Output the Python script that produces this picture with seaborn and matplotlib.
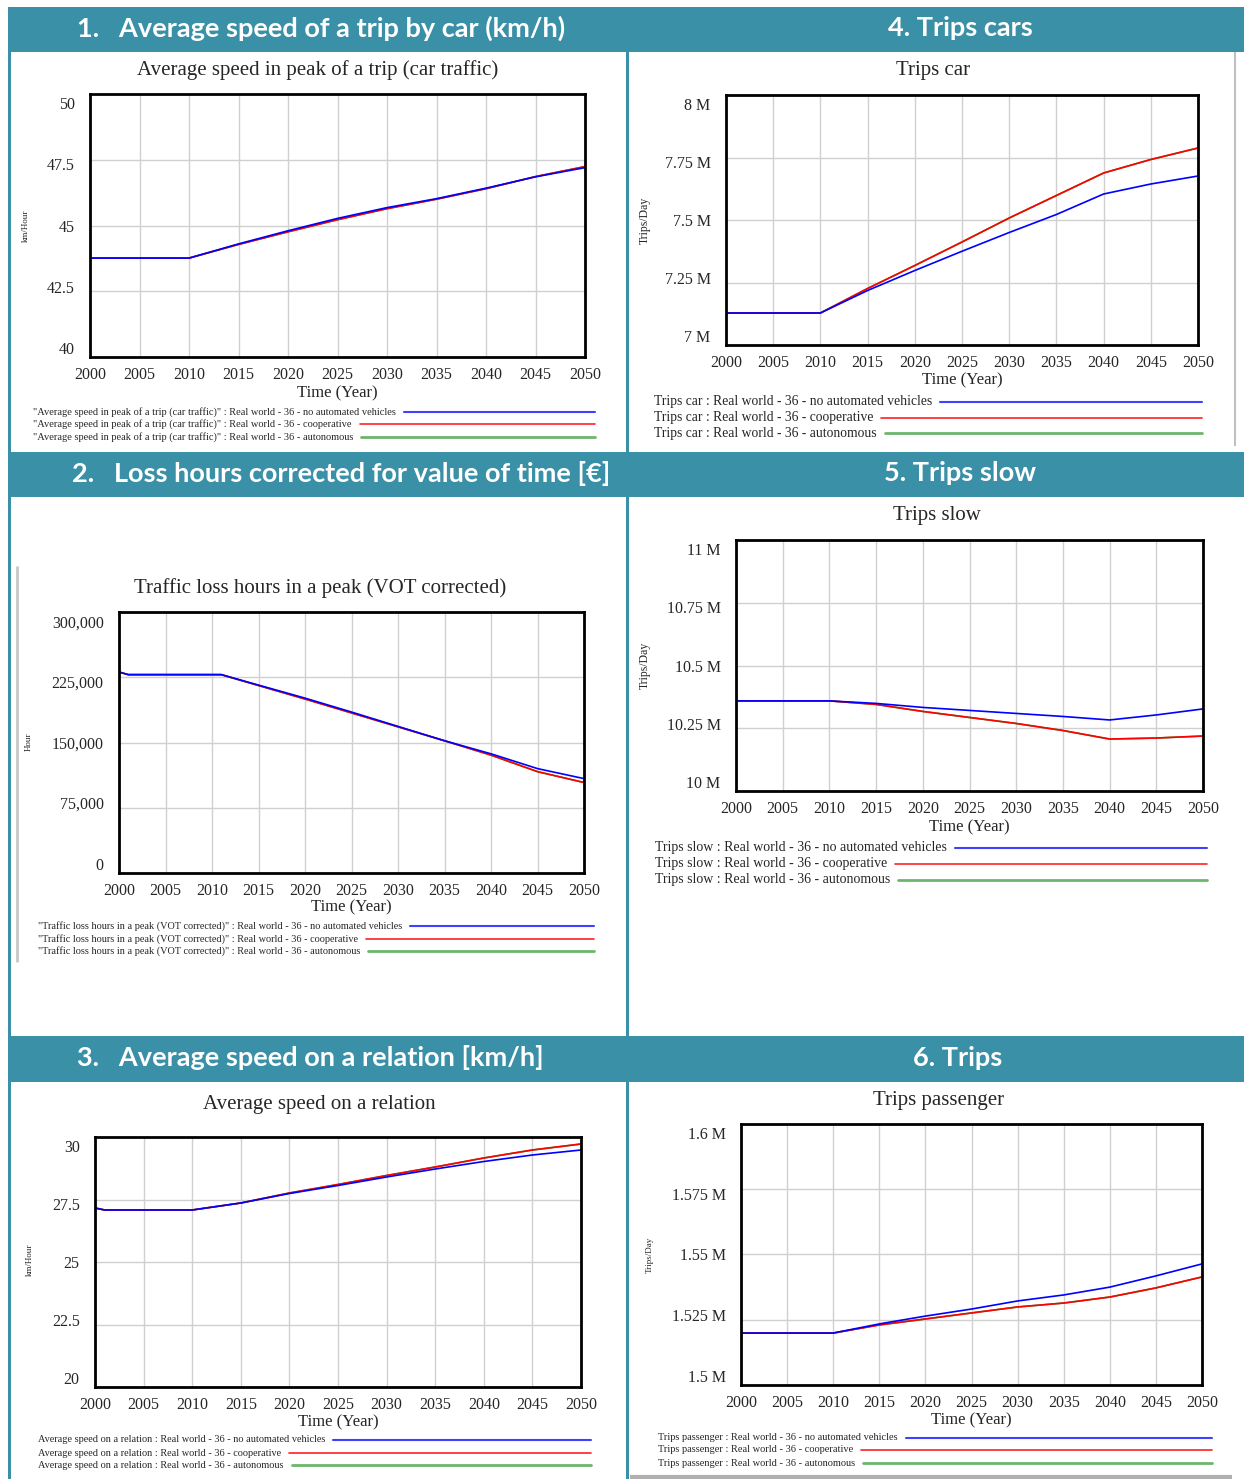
import numpy as np
import pandas as pd
import matplotlib
matplotlib.use("Agg")
import matplotlib.pyplot as plt
import matplotlib.transforms as mtrans
from matplotlib.patches import Rectangle
from matplotlib.lines import Line2D
import seaborn as sns

sns.set_style("white")
plt.rcParams['font.family'] = ['Liberation Serif', 'DejaVu Serif']

W, H = 1244, 1479
TEAL = "#3a90a6"

# ---------------- data ----------------
SCEN = ["no automated vehicles", "cooperative", "autonomous"]

# 1. Average speed in peak of a trip (car traffic) [km/Hour]
p1_years = [2000, 2005, 2010, 2015, 2020, 2025, 2030, 2035, 2040, 2045, 2050]
p1_noav = [43.76, 43.76, 43.76, 44.30, 44.80, 45.27, 45.68, 46.02, 46.42, 46.85, 47.20]
p1_coop = [43.76, 43.76, 43.76, 44.28, 44.76, 45.22, 45.64, 46.00, 46.40, 46.86, 47.24]
p1_auto = [43.76, 43.76, 43.76, 44.28, 44.76, 45.22, 45.64, 46.00, 46.40, 46.86, 47.24]

# 4. Trips car [Trips/Day]
p4_years = [2000, 2005, 2010, 2015, 2020, 2025, 2030, 2035, 2040, 2045, 2050]
p4_noav = [7.128e6, 7.128e6, 7.128e6, 7.218e6, 7.298e6, 7.375e6, 7.450e6, 7.522e6, 7.604e6, 7.644e6, 7.676e6]
p4_coop = [7.128e6, 7.128e6, 7.128e6, 7.226e6, 7.318e6, 7.412e6, 7.508e6, 7.598e6, 7.688e6, 7.742e6, 7.788e6]
p4_auto = [7.128e6, 7.128e6, 7.128e6, 7.226e6, 7.318e6, 7.412e6, 7.508e6, 7.598e6, 7.688e6, 7.742e6, 7.788e6]

# 2. Traffic loss hours in a peak (VOT corrected) [Hour]
p2_years = [2000, 2001, 2005, 2011, 2015, 2020, 2025, 2030, 2035, 2040, 2045, 2050]
p2_noav = [231000, 228000, 228000, 228000, 216000, 201000, 185000, 168500, 152000, 137000, 120000, 108500]
p2_coop = [231000, 228000, 228000, 228000, 215500, 200000, 184000, 168000, 152000, 135500, 116500, 104000]
p2_auto = [231000, 228000, 228000, 228000, 215500, 200000, 184000, 168000, 152000, 135500, 116500, 104000]

# 5. Trips slow [Trips/Day]
p5_years = [2000, 2005, 2010, 2015, 2020, 2025, 2030, 2035, 2040, 2045, 2050]
p5_noav = [10.359e6, 10.359e6, 10.359e6, 10.349e6, 10.333e6, 10.321e6, 10.309e6, 10.297e6, 10.283e6, 10.303e6, 10.327e6]
p5_coop = [10.359e6, 10.359e6, 10.359e6, 10.345e6, 10.317e6, 10.293e6, 10.269e6, 10.241e6, 10.207e6, 10.211e6, 10.219e6]
p5_auto = [10.359e6, 10.359e6, 10.359e6, 10.345e6, 10.317e6, 10.293e6, 10.269e6, 10.241e6, 10.207e6, 10.211e6, 10.219e6]

# 3. Average speed on a relation [km/Hour]
p3_years = [2000, 2001, 2005, 2010, 2015, 2020, 2025, 2030, 2035, 2040, 2045, 2050]
p3_noav = [27.16, 27.08, 27.08, 27.08, 27.36, 27.74, 28.06, 28.40, 28.72, 29.02, 29.28, 29.48]
p3_coop = [27.16, 27.08, 27.08, 27.08, 27.36, 27.76, 28.10, 28.46, 28.80, 29.16, 29.48, 29.72]
p3_auto = [27.16, 27.08, 27.08, 27.08, 27.36, 27.76, 28.10, 28.46, 28.80, 29.16, 29.48, 29.72]

# 6. Trips passenger [Trips/Day]
p6_years = [2000, 2005, 2010, 2015, 2020, 2025, 2030, 2035, 2040, 2045, 2050]
p6_noav = [1.5199e6, 1.5199e6, 1.5199e6, 1.5234e6, 1.5264e6, 1.5291e6, 1.5322e6, 1.5345e6, 1.5375e6, 1.5418e6, 1.5464e6]
p6_coop = [1.5199e6, 1.5199e6, 1.5199e6, 1.5230e6, 1.5253e6, 1.5276e6, 1.5299e6, 1.5314e6, 1.5337e6, 1.5372e6, 1.5414e6]
p6_auto = [1.5199e6, 1.5199e6, 1.5199e6, 1.5230e6, 1.5253e6, 1.5276e6, 1.5299e6, 1.5314e6, 1.5337e6, 1.5372e6, 1.5414e6]

x_ticks = [2000, 2005, 2010, 2015, 2020, 2025, 2030, 2035, 2040, 2045, 2050]

p1_yticks = [40, 42.5, 45, 47.5, 50]
p1_ylabels = ["40", "42.5", "45", "47.5", "50"]
p4_yticks = [7.0e6, 7.25e6, 7.5e6, 7.75e6, 8.0e6]
p4_ylabels = ["7 M", "7.25 M", "7.5 M", "7.75 M", "8 M"]
p2_yticks = [0, 75000, 150000, 225000, 300000]
p2_ylabels = ["0", "75,000", "150,000", "225,000", "300,000"]
p5_yticks = [10.0e6, 10.25e6, 10.5e6, 10.75e6, 11.0e6]
p5_ylabels = ["10 M", "10.25 M", "10.5 M", "10.75 M", "11 M"]
p3_yticks = [20, 22.5, 25, 27.5, 30]
p3_ylabels = ["20", "22.5", "25", "27.5", "30"]
p6_yticks = [1.5e6, 1.525e6, 1.55e6, 1.575e6, 1.6e6]
p6_ylabels = ["1.5 M", "1.525 M", "1.55 M", "1.575 M", "1.6 M"]

headers = [
    ("1.   Average speed of a trip by car (km/h)", 321, 28),
    ("4. Trips cars", 960, 28),
    ("2.   Loss hours corrected for value of time [€]", 341, 473),
    ("5. Trips slow", 960, 473),
    ("3.   Average speed on a relation [km/h]", 310, 1058),
    ("6. Trips", 958, 1058),
]

PALETTE = {"no automated vehicles": "#0000ff", "cooperative": "#ff0000", "autonomous": "#3aa03a"}
LEG_COLORS = ["#4040ff", "#ff2020", "#6db56d"]

fig = plt.figure(figsize=(W / 100, H / 100), dpi=100)
fig.patch.set_facecolor("white")


def fx(x):
    return x / W


def fy(y):
    return 1 - y / H


def rect(x0, y0, x1, y1, color, z=0):
    fig.add_artist(Rectangle((fx(x0), fy(y1)), (x1 - x0) / W, (y1 - y0) / H,
                             transform=fig.transFigure, facecolor=color,
                             edgecolor="none", zorder=z))


def fline(x0, y0, x1, y1, color, lw, z=1):
    fig.add_artist(Line2D([fx(x0), fx(x1)], [fy(y0), fy(y1)], transform=fig.transFigure,
                          color=color, lw=lw, zorder=z, solid_capstyle="butt"))


# frame pieces
rect(8, 7, 1244, 52, TEAL)
rect(8, 452, 1244, 497, TEAL)
rect(8, 1036, 1244, 1082, TEAL)
rect(8, 7, 11, 1479, TEAL)
rect(625.5, 7, 628.5, 1479, TEAL)
fline(1235, 52, 1235, 446, "#c0c0c0", 1.5)
fline(17, 566, 17, 962, "#c8c8c8", 2)
fline(630, 1477, 1232, 1477, "#b0b0b0", 3)

for text, cx, cy in headers:
    fig.text(fx(cx), fy(cy), text, color="white", fontsize=19.5, fontweight="bold",
             family=["Lato", "DejaVu Sans"], ha="center", va="center")


def legend(leg_name, leg_x, leg_ys, leg_end, leg_fs):
    r = fig.canvas.get_renderer()
    for i, scen in enumerate(SCEN):
        t = fig.text(fx(leg_x), fy(leg_ys[i]), f"{leg_name} : Real world - 36 - {scen}",
                     fontsize=leg_fs, ha="left", va="center")
        bb = t.get_window_extent(renderer=r)
        xe = bb.x1 + 8
        lw = [1.5, 1.2, 2.0][i]
        fig.add_artist(Line2D([xe / W, fx(leg_end)], [fy(leg_ys[i]), fy(leg_ys[i])],
                              transform=fig.transFigure, color=LEG_COLORS[i], lw=lw))


def panel(box, years, noav, coop, auto, yticks, ylabels, title, title_xy, ylab, ylab_xy,
          ylab_fs, xlab_y, tick_fs=11.5):
    x0, y0, x1, y1 = box
    ax = fig.add_axes([fx(x0), fy(y1), (x1 - x0) / W, (y1 - y0) / H])
    df = pd.DataFrame({
        "year": list(years) * 3,
        "value": list(auto) + list(coop) + list(noav),
        "scenario": ["autonomous"] * len(years) + ["cooperative"] * len(years)
                    + ["no automated vehicles"] * len(years),
    })
    sns.lineplot(data=df, x="year", y="value", hue="scenario",
                 hue_order=["autonomous", "cooperative", "no automated vehicles"],
                 palette=PALETTE, lw=1.2, ax=ax, legend=False, estimator=None)
    ax.set_xlim(2000, 2050)
    ax.set_ylim(yticks[0], yticks[-1])
    ax.set_xticks(x_ticks)
    ax.set_xticklabels([str(t) for t in x_ticks], fontsize=tick_fs)
    ax.set_yticks(yticks)
    ax.set_yticklabels(ylabels, fontsize=tick_fs)
    ax.tick_params(axis="y", length=0, pad=11)
    ax.tick_params(axis="x", length=0, pad=7)
    # Vensim-style: outer y labels pulled toward the middle
    n = len(yticks)
    for i, lab in enumerate(ax.get_yticklabels()):
        dy = ((n - 1) / 2 - i) * 3.4 / 72
        lab.set_transform(lab.get_transform() +
                          mtrans.ScaledTranslation(0, dy, fig.dpi_scale_trans))
    ax.grid(True, color="#d0d0d0", lw=1)
    for s in ax.spines.values():
        s.set_color("black")
        s.set_linewidth(2)
    ax.set_xlabel("")
    ax.set_ylabel("")
    fig.text(fx(title_xy[0]), fy(title_xy[1]), title, fontsize=15, ha="center", va="center")
    fig.text(fx(ylab_xy[0]), fy(ylab_xy[1]), ylab, fontsize=ylab_fs, rotation=90,
             ha="center", va="center")
    fig.text(fx((x0 + x1) / 2), fy(xlab_y), "Time (Year)", fontsize=12, ha="center", va="center")
    return ax


fig.canvas.draw()

panel((90, 94, 585, 357), p1_years, p1_noav, p1_coop, p1_auto, p1_yticks, p1_ylabels,
      "Average speed in peak of a trip (car traffic)", (318, 70), "km/Hour", (26, 226), 6.5, 393)
legend('"Average speed in peak of a trip (car traffic)"', 33, [412, 424, 437], 595, 7.5)

panel((726, 95, 1198, 345), p4_years, p4_noav, p4_coop, p4_auto, p4_yticks, p4_ylabels,
      "Trips car", (933, 71), "Trips/Day", (645, 220), 8.5, 380)
legend("Trips car", 654, [402, 418, 433], 1202, 9.8)

panel((119, 612, 584, 873), p2_years, p2_noav, p2_coop, p2_auto, p2_yticks, p2_ylabels,
      "Traffic loss hours in a peak (VOT corrected)", (320, 588), "Hour", (29, 742), 6.5, 907)
legend('"Traffic loss hours in a peak (VOT corrected)"', 38, [926, 939, 951], 594, 7.4)

panel((736, 540, 1203, 791), p5_years, p5_noav, p5_coop, p5_auto, p5_yticks, p5_ylabels,
      "Trips slow", (937, 516), "Trips/Day", (645, 665), 8.5, 827)
legend("Trips slow", 655, [848, 864, 880], 1207, 10)

panel((95, 1137, 581, 1387), p3_years, p3_noav, p3_coop, p3_auto, p3_yticks, p3_ylabels,
      "Average speed on a relation", (319, 1104), "km/Hour", (30, 1260), 6.5, 1422)
legend("Average speed on a relation", 38, [1440, 1453, 1465], 591, 7.4)

panel((741, 1124, 1202, 1385), p6_years, p6_noav, p6_coop, p6_auto, p6_yticks, p6_ylabels,
      "Trips passenger", (939, 1101), "Trips/Day", (650, 1255), 6.5, 1420)
legend("Trips passenger", 658, [1438, 1450, 1463], 1212, 7.45)

fig.savefig("out.png", dpi=100, facecolor="white")
